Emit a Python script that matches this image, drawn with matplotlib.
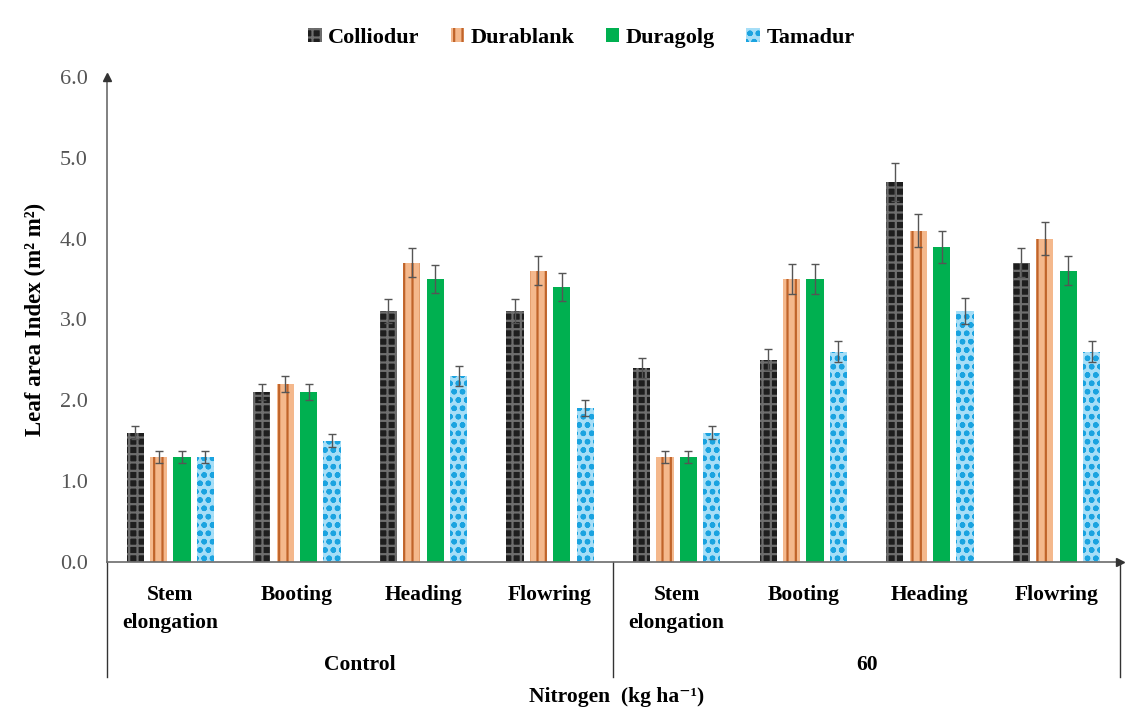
import numpy as np
import matplotlib.pyplot as plt
from matplotlib.patches import Patch

plt.rcParams['font.family'] = ['Liberation Serif', 'DejaVu Serif']
plt.rcParams['hatch.linewidth'] = 1.6

stages = ["Stem\nelongation", "Booting", "Heading", "Flowring"]
treatments = ["Control", "60"]
cultivars = ["Colliodur", "Durablank", "Duragolg", "Tamadur"]

# leaf area index, order: Control stages then 60 stages
colliodur = [1.6, 2.1, 3.1, 3.1, 2.4, 2.5, 4.7, 3.7]
durablank = [1.3, 2.2, 3.7, 3.6, 1.3, 3.5, 4.1, 4.0]
duragolg = [1.3, 2.1, 3.5, 3.4, 1.3, 3.5, 3.9, 3.6]
tamadur = [1.3, 1.5, 2.3, 1.9, 1.6, 2.6, 3.1, 2.6]

colliodur_err = [0.08, 0.10, 0.15, 0.15, 0.12, 0.13, 0.24, 0.18]
durablank_err = [0.07, 0.10, 0.18, 0.18, 0.07, 0.18, 0.20, 0.20]
duragolg_err = [0.07, 0.10, 0.17, 0.17, 0.07, 0.18, 0.20, 0.18]
tamadur_err = [0.07, 0.08, 0.12, 0.10, 0.08, 0.13, 0.16, 0.13]

series = [colliodur, durablank, duragolg, tamadur]
errors = [colliodur_err, durablank_err, duragolg_err, tamadur_err]
faces = ["#1e1e1e", "#f4b88c", "#00b050", "#a6def7"]
edges = ["#6e6e6e", "#c0642a", "#00b050", "#1aa3e0"]
hatches = ["++", "||", None, "oo"]

fig = plt.figure(figsize=(11.29, 7.26), dpi=100)
ax = fig.add_axes([0.0948, 0.226, 0.897, 0.668])

x = np.arange(len(colliodur))
step = 0.185
width = 0.135
for k in range(4):
    pos = x + (k - 1.5) * step
    ax.bar(pos, series[k], width, color=faces[k], edgecolor=edges[k],
           hatch=hatches[k], linewidth=0, zorder=2)
    ax.errorbar(pos, series[k], yerr=errors[k], fmt="none", ecolor="#555555",
                elinewidth=1, capsize=3, capthick=1, zorder=3)

ax.set_xlim(-0.5, 7.5)
ax.set_ylim(0, 6)
ax.set_yticks(np.arange(0, 6.1, 1))
ax.set_yticklabels([f"{v:.1f}" for v in np.arange(0, 6.1, 1)], fontsize=16, color="#555555")
ax.tick_params(axis="y", length=0, pad=14)
ax.set_xticks([])

for s in ["top", "right"]:
    ax.spines[s].set_visible(False)
for s in ["left", "bottom"]:
    ax.spines[s].set_color("#6b6b6b")
    ax.spines[s].set_linewidth(1.2)

# axis arrows
ax.plot(-0.5, 6, marker="^", color="#333333", markersize=6, clip_on=False, zorder=4)
ax.plot(7.5, 0, marker=">", color="#333333", markersize=6, clip_on=False, zorder=4)

ax.set_ylabel("Leaf area Index (m² m²)", fontsize=16.5, fontweight="bold", labelpad=10)

# grouped category axis underneath
for xv in [-0.5, 3.5, 7.5]:
    ax.plot([xv, xv], [0, -1.42], color="#333333", lw=1, clip_on=False)

for i, lab in enumerate(stages * 2):
    ax.text(i, -0.29, lab, ha="center", va="top", fontsize=15.5, fontweight="bold",
            linespacing=1.5)
for j, lab in enumerate(treatments):
    ax.text(1.5 + 4 * j, -1.28, lab, ha="center", va="center", fontsize=15.5,
            fontweight="bold")

fig.text(0.546, 0.04, "Nitrogen  (kg ha⁻¹)", ha="center", va="center",
         fontsize=15.5, fontweight="bold")

handles = [Patch(facecolor=faces[k], edgecolor=edges[k], hatch=hatches[k], linewidth=0)
           for k in range(4)]
fig.legend(handles, cultivars, loc="center", bbox_to_anchor=(0.515, 0.948), ncol=4,
           frameon=False, prop={"size": 16, "weight": "bold"}, handlelength=0.6,
           handleheight=0.6, handletextpad=0.3, columnspacing=1.4)

fig.savefig("out.png", dpi=100, facecolor="white")
